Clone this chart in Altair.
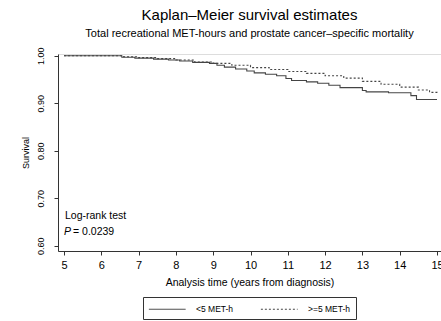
import altair as alt
import pandas as pd

# <5 MET-h (solid)
time_lo = [5.0, 6.55, 6.9, 7.4, 7.8, 8.1, 8.45, 8.9, 9.1, 9.3, 9.6, 9.9, 10.1, 10.4,
           10.7, 10.95, 11.1, 11.5, 11.8, 12.1, 12.4, 13.0, 13.1, 13.7, 14.3, 14.45, 15.0]
surv_lo = [1.000, 0.997, 0.995, 0.993, 0.991, 0.989, 0.986, 0.984, 0.980, 0.976, 0.972,
           0.968, 0.964, 0.961, 0.958, 0.952, 0.948, 0.945, 0.942, 0.938, 0.933, 0.927,
           0.924, 0.922, 0.916, 0.908, 0.908]
# >=5 MET-h (dotted)
time_hi = [5.0, 6.6, 7.0, 7.5, 8.0, 8.5, 9.0, 9.5, 10.0, 10.5, 11.0, 11.5, 12.0, 12.5,
           13.0, 13.5, 14.0, 14.5, 14.8, 15.0]
surv_hi = [1.000, 0.998, 0.996, 0.994, 0.991, 0.987, 0.984, 0.980, 0.975, 0.971, 0.967,
           0.963, 0.958, 0.953, 0.946, 0.940, 0.934, 0.928, 0.923, 0.920]

groups = ["<5 MET-h", ">=5 MET-h"]
x_ticks = [5, 6, 7, 8, 9, 10, 11, 12, 13, 14, 15]
y_ticks = [0.6, 0.7, 0.8, 0.9, 1.0]

df = pd.concat([
    pd.DataFrame({"time": time_lo, "surv": surv_lo, "group": groups[0]}),
    pd.DataFrame({"time": time_hi, "surv": surv_hi, "group": groups[1]}),
])

FONT = "Liberation Sans"
INK = "#333333"

lines = alt.Chart(df).mark_line(interpolate="step-after", strokeWidth=1.1, color="#444444").encode(
    x=alt.X("time:Q",
            scale=alt.Scale(domain=[4.839, 15.107], nice=False, zero=False),
            axis=alt.Axis(values=x_ticks, format="d", tickSize=4, labelFontSize=11,
                          labelPadding=4, title="Analysis time (years from diagnosis)",
                          titleFontSize=10.5, titleFontWeight="normal", titlePadding=7,
                          grid=False, domainColor=INK, tickColor=INK, labelColor="black",
                          titleColor="black", labelFont=FONT, titleFont=FONT, labelFlush=False)),
    y=alt.Y("surv:Q",
            scale=alt.Scale(domain=[0.589, 1.0037], nice=False, zero=False),
            axis=alt.Axis(values=y_ticks, format=".2f", tickSize=4, labelFontSize=9,
                          labelAngle=270, labelAlign="center", labelBaseline="bottom",
                          labelPadding=9, title="Survival", titleFontSize=9,
                          titleFontWeight="normal", titlePadding=6, grid=False,
                          domainColor=INK, tickColor=INK, labelColor="black",
                          titleColor="black", labelFont=FONT, titleFont=FONT, labelFlush=False)),
    strokeDash=alt.StrokeDash("group:N",
                              scale=alt.Scale(domain=groups, range=[[1, 0], [2, 2]]),
                              legend=alt.Legend(orient="none", legendX=85, legendY=243,
                                                direction="horizontal", title=None,
                                                symbolType="M-1,0H5", symbolSize=150,
                                                symbolStrokeWidth=1, symbolStrokeColor="#444444",
                                                labelFontSize=8.5, labelFont=FONT, labelColor="black",
                                                labelOffset=34, columnPadding=24, padding=5,
                                                strokeColor=INK, fillColor="white",
                                                columns=2)),
)

ann_df = pd.DataFrame({"t": ["Log-rank test"]})
ann1 = alt.Chart(ann_df).mark_text(align="left", baseline="middle", fontSize=10.5, font=FONT,
                                   color="black").encode(
    x=alt.value(7), y=alt.value(162), text="t:N")
ann2 = alt.Chart(pd.DataFrame({"t": ["P"]})).mark_text(align="left", baseline="middle", fontSize=10.5,
                                                       font=FONT, fontStyle="italic",
                                                       color="black").encode(
    x=alt.value(6), y=alt.value(178), text="t:N")
ann3 = alt.Chart(pd.DataFrame({"t": ["= 0.0239"]})).mark_text(align="left", baseline="middle",
                                                               fontSize=10.5, font=FONT,
                                                               color="black").encode(
    x=alt.value(15), y=alt.value(178), text="t:N")

chart = alt.layer(lines, ann1, ann2, ann3).properties(
    width=383, height=197,
    autosize=alt.AutoSizeParams(type="none"),
    padding={"left": 58, "top": 54, "right": 0, "bottom": 70},
    title=alt.TitleParams(text="Kaplan–Meier survival estimates",
                          subtitle="Total recreational MET-hours and prostate cancer–specific mortality",
                          fontSize=15, subtitleFontSize=11, font=FONT, subtitleFont=FONT,
                          fontWeight="normal", anchor="middle", offset=8, subtitlePadding=5,
                          color="black", subtitleColor="black"),
).configure_view(stroke=None).configure(background="white")

chart.save("out.html", embed_options={"renderer": "svg", "actions": False})
